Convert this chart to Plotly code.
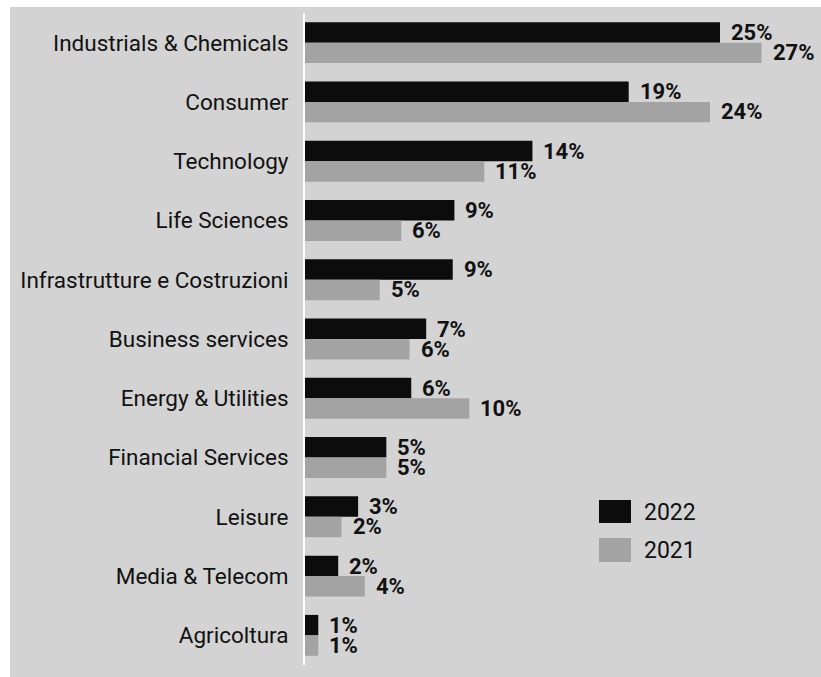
import plotly.graph_objects as go

categories = [
    "Industrials & Chemicals", "Consumer", "Technology", "Life Sciences",
    "Infrastrutture e Costruzioni", "Business services", "Energy & Utilities",
    "Financial Services", "Leisure", "Media & Telecom", "Agricoltura",
]
series_names = ["2022", "2021"]
values_2022 = [25.0, 19.5, 13.7, 9.0, 8.9, 7.3, 6.4, 4.9, 3.2, 2.0, 0.8]
values_2021 = [27.5, 24.4, 10.8, 5.8, 4.5, 6.3, 9.9, 4.9, 2.2, 3.6, 0.8]
labels_2022 = ["25%", "19%", "14%", "9%", "9%", "7%", "6%", "5%", "3%", "2%", "1%"]
labels_2021 = ["27%", "24%", "11%", "6%", "5%", "6%", "10%", "5%", "2%", "4%", "1%"]

W, H = 821, 677
ML, MR, MT, MB = 305, 0, 13, 12
PW, PH = W - ML - MR, H - MT - MB
BG = "#d3d3d3"
C22 = "#0c0c0c"
C21 = "#a3a3a3"
FONT = "Roboto"


def px_x(p):
    return (p - ML) / PW


def px_y(p):
    return (H - MB - p) / PH


fig = go.Figure()
fig.add_bar(y=categories, x=values_2022, orientation="h", name=series_names[0],
            marker=dict(color=C22, line=dict(width=0)))
fig.add_bar(y=categories, x=values_2021, orientation="h", name=series_names[1],
            marker=dict(color=C21, line=dict(width=0)))

annotations = []
for cat, v, t in zip(categories, values_2022, labels_2022):
    annotations.append(dict(x=v, y=cat, text=t, showarrow=False, xanchor="left",
                            xshift=9, yshift=10,
                            font=dict(family=FONT, size=22, color="#111", weight="bold")))
for cat, v, t in zip(categories, values_2021, labels_2021):
    annotations.append(dict(x=v, y=cat, text=t, showarrow=False, xanchor="left",
                            xshift=9, yshift=-10,
                            font=dict(family=FONT, size=22, color="#111", weight="bold")))
for name, cy in zip(series_names, [512, 550]):
    annotations.append(dict(x=px_x(642), y=px_y(cy), xref="paper", yref="paper",
                            text=name, showarrow=False, xanchor="left", yanchor="middle",
                            font=dict(family=FONT, size=23, color="#111")))

shapes = [
    dict(type="rect", xref="paper", yref="paper", x0=px_x(10), x1=1.02,
         y0=px_y(H + 5), y1=px_y(7), fillcolor=BG, line=dict(width=0), layer="below"),
    dict(type="rect", xref="paper", yref="paper", x0=px_x(599), x1=px_x(631),
         y0=px_y(523), y1=px_y(500), fillcolor=C22, line=dict(width=0)),
    dict(type="rect", xref="paper", yref="paper", x0=px_x(599), x1=px_x(631),
         y0=px_y(562), y1=px_y(538), fillcolor=C21, line=dict(width=0)),
]

fig.update_layout(
    width=W, height=H,
    margin=dict(l=ML, r=MR, t=MT, b=MB, pad=0),
    paper_bgcolor="white", plot_bgcolor="rgba(0,0,0,0)",
    barmode="group", bargap=0.31, bargroupgap=0,
    showlegend=False,
    annotations=annotations, shapes=shapes,
    font=dict(family=FONT, color="#111"),
)
fig.update_xaxes(range=[0, PW / 16.6], visible=False, fixedrange=True)
fig.update_yaxes(autorange="reversed", showline=True, linecolor="white", linewidth=2,
                 showgrid=False, zeroline=False, ticks="", ticklabelstandoff=10,
                 tickfont=dict(family=FONT, size=22.5, color="#111"))

fig.write_html("out.html")
